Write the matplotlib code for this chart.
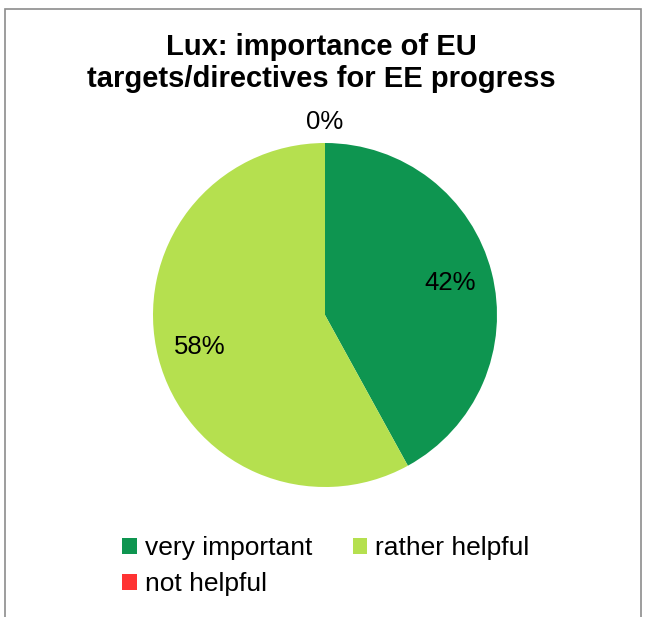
import matplotlib
matplotlib.use("Agg")
import matplotlib.pyplot as plt
from matplotlib.patches import Patch, Rectangle
import numpy as np

plt.rcParams['font.family'] = ['Liberation Sans', 'DejaVu Sans']

categories = ["very important", "rather helpful", "not helpful"]
values = [42, 58, 0]
colors = ["#0E9550", "#B5E04F", "#FF3333"]
title = "Lux: importance of EU\ntargets/directives for EE progress"

W, H = 647, 617
fig = plt.figure(figsize=(W / 100, H / 100), dpi=100)

# frame
fig.patches.append(Rectangle((4.5 / W, -0.05), (641 - 4.5) / W, 1.05 - 8.5 / H,
                             transform=fig.transFigure, fill=False,
                             edgecolor="#8c8c8c", linewidth=1.2))

cx, cy, r = 325, 315, 172
ax = fig.add_axes([(cx - r) / W, (H - cy - r) / H, 2 * r / W, 2 * r / H])
wedges, texts, autotexts = ax.pie(values, colors=colors, startangle=90,
                                  counterclock=False, autopct="%1.0f%%",
                                  pctdistance=0.75, radius=1,
                                  textprops=dict(fontsize=18.5, color="black"))
for v, t in zip(values, autotexts):
    if v == 0:
        x, y = t.get_position()
        n = np.hypot(x, y) or 1
        t.set_position((x / n * 1.12, y / n * 1.12))
ax.set_xlim(-1, 1)
ax.set_ylim(-1, 1)
ax.set_aspect("equal")
ax.axis("off")

fig.text(321 / W, 1 - 63 / H, title, ha="center", va="center",
         fontsize=21, fontweight="bold", linespacing=1.2)

# row-major ordering for a 2-column legend
order = [0, 2, 1]
handles = [Patch(facecolor=colors[i], edgecolor="none") for i in order]
labels = [categories[i] for i in order]
fig.legend(handles, labels, loc="upper left",
           bbox_to_anchor=(109 / W, 1 - 523 / H), ncol=2, frameon=False,
           fontsize=19, handlelength=0.55, handleheight=0.55, borderpad=0,
           handletextpad=0.3, columnspacing=1.55, labelspacing=0.45)

fig.savefig("out.png", dpi=100)
